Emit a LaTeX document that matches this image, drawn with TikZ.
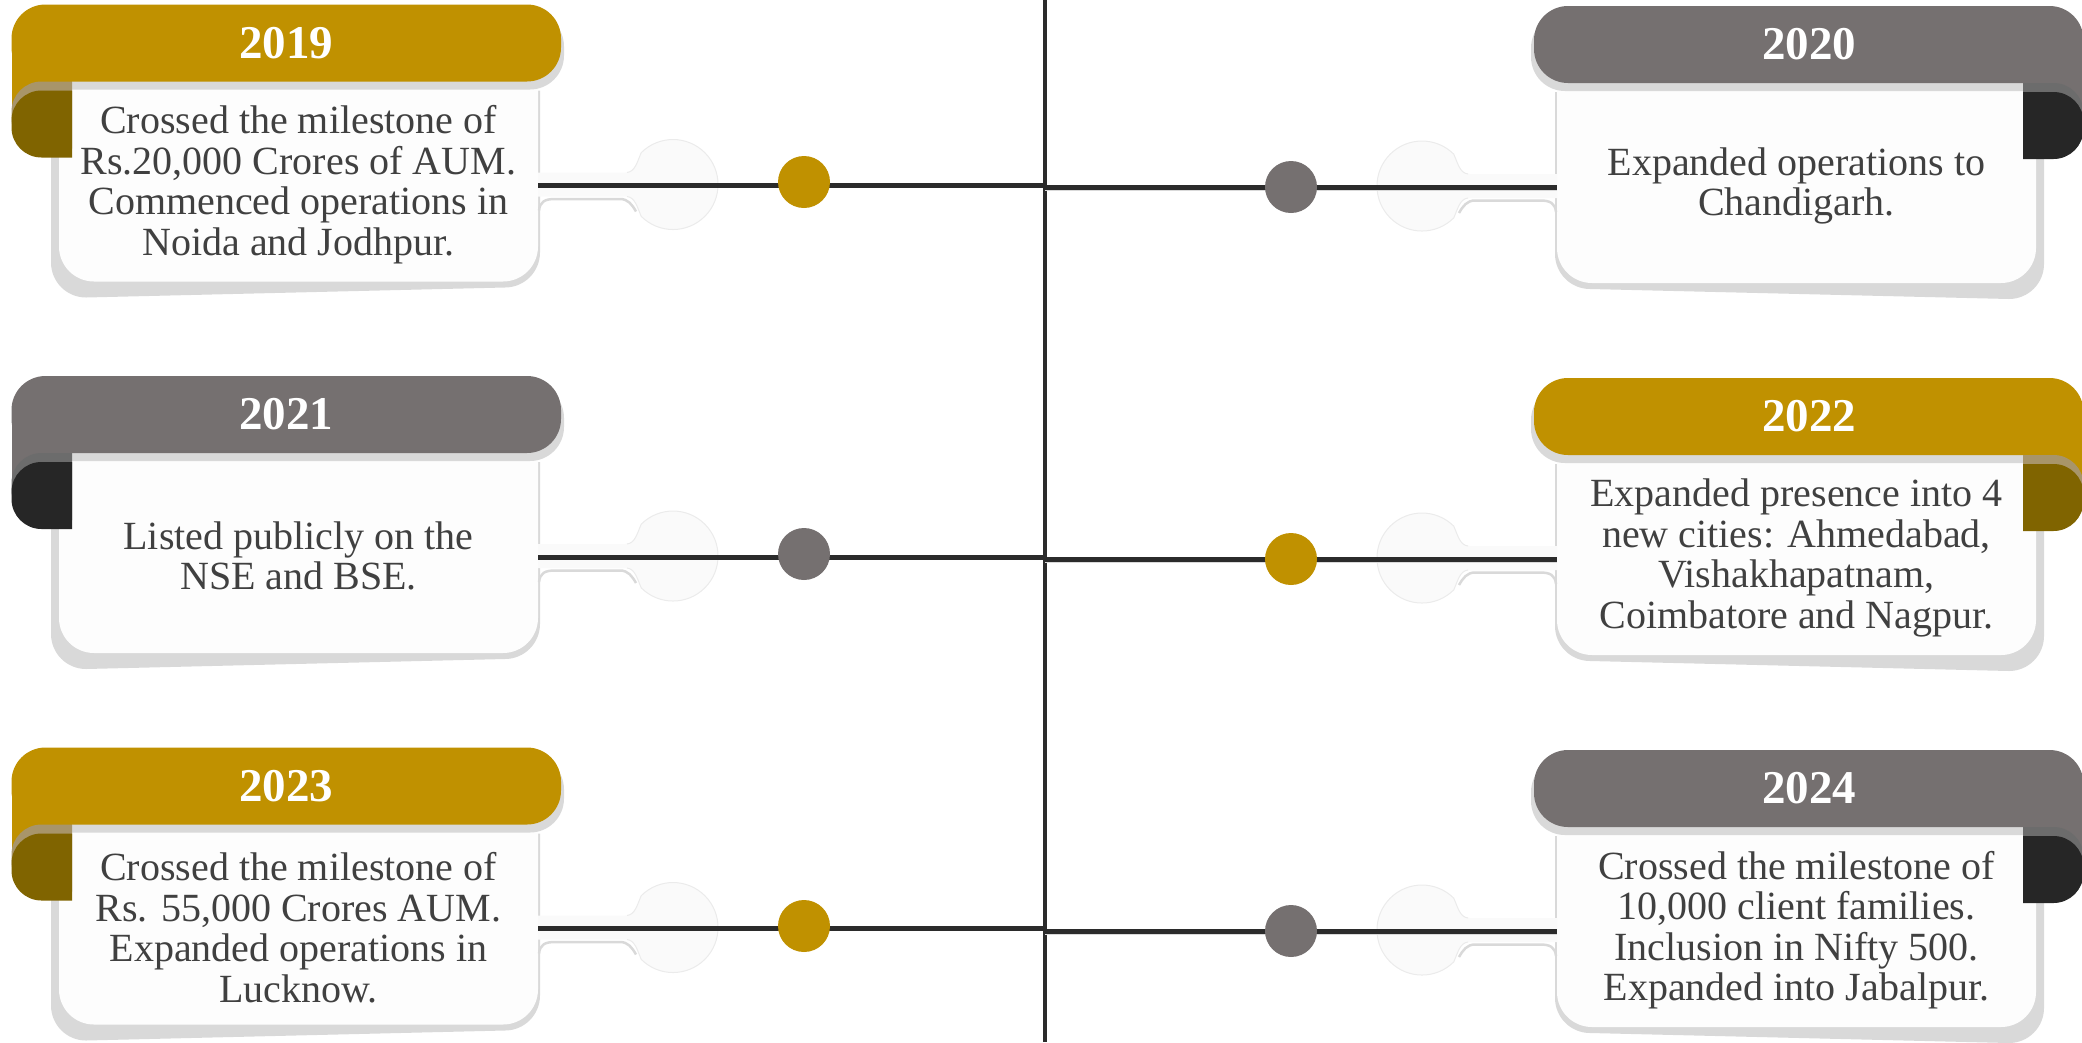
\documentclass[tikz,border=0pt]{standalone}
\usepackage{fontspec}
\setmainfont{Liberation Serif}
\usetikzlibrary{positioning}
\definecolor{gold}{HTML}{C09100}
\definecolor{goldband}{HTML}{A8956A}
\definecolor{goldcurl}{HTML}{806400}
\definecolor{grey}{HTML}{757070}
\definecolor{greyband}{HTML}{6C6C6C}
\definecolor{greycurl}{HTML}{262626}
\definecolor{cardgrey}{HTML}{D9D9D9}
\definecolor{cardwhite}{HTML}{FDFDFD}
\definecolor{ink}{HTML}{404040}
\definecolor{spinecol}{HTML}{2B2B2B}
\definecolor{tabfill}{HTML}{FAFAFA}
\definecolor{tabedge}{HTML}{EBEBEB}

\tikzset{
  cardshadow/.style={fill=cardgrey},
  cardbody/.style={fill=cardwhite},
  yeartext/.style={text=white, inner sep=0pt, font=\fontsize{47}{50}\selectfont\bfseries},
  cardtext/.style={text=ink, align=center, inner sep=0pt, font=\fontsize{40}{40.5}\selectfont},
  stem/.style={draw=spinecol, line width=5pt},
  stemshadow/.style={draw=cardgrey, line width=1.5pt},
  spineline/.style={draw=spinecol, line width=4.5pt},
  dot/.style={circle, minimum size=52pt, inner sep=0pt},
  tabshape/.style={fill=tabfill},
  tabline/.style={draw=tabedge, line width=1pt},
  tabshadow/.style={draw=cardgrey, line width=2.5pt}
}

% #1 name, #2 x of body edge, #3 side (1 or -1), #4 top, #5 colour, #6 year, #7 text
\newcommand{\milecard}[7]{%
  \begin{scope}[shift={(#2,#4)}, xscale=#3]
    \fill[cardshadow] (-8,86) -- (-8,258) arc[start angle=180,end angle=90,radius=35]
      -- (446,283) arc[start angle=90,end angle=0,radius=35] -- (481,86) -- cycle;
    \fill[cardbody] (0,70) -- (0,242) arc[start angle=180,end angle=90,radius=35]
      -- (444,277) arc[start angle=90,end angle=0,radius=35] -- (479,70) -- cycle;
    \fill[tabshape] (479,168) -- (566,168) .. controls (576,168) and (578,158) .. (582.2,148.2)
      arc[start angle=225,end angle=495,radius=45]
      .. controls (578,202) and (576,192) .. (566,192) -- (479,192) -- cycle;
    \draw[tabline] (568,168) .. controls (576,167) and (578,158) .. (582.2,148.2)
      arc[start angle=225,end angle=495,radius=45]
      .. controls (578,202) and (576,193) .. (568,192);
    \draw[tabshadow] (480,206) .. controls (481,197) and (486,194.5) .. (496,194.5)
      -- (561,194.5) .. controls (569,194.5) and (573,200) .. (577,207);
    \fill[cardshadow, rounded corners=34] (-44.5,8) rectangle (505,85);
    \fill[#5, rounded corners=34] (-47.5,0) rectangle (502,77);
    \fill[#5] (-47.5,38) rectangle (13,115);
    \fill[#5band] (13,77) -- (-17.5,77) arc[start angle=270,end angle=180,radius=30]
      -- (-47.5,114) arc[start angle=180,end angle=90,radius=30] -- (13,144) -- cycle;
    \fill[#5curl] (13,86) -- (-17.5,86) arc[start angle=270,end angle=180,radius=30]
      -- (-47.5,123) arc[start angle=180,end angle=90,radius=30] -- (13,153) -- cycle;
    \node[yeartext] (#1year) at (227,38.5) {#6};
    \node[cardtext] (#1text) at (239.5,180) {#7};
    \coordinate (#1tab) at (479,181);
  \end{scope}}

\begin{document}
\begin{tikzpicture}[x=1pt, y=-1pt]
  \useasboundingbox (0,0) rectangle (2082,1042);

  \milecard{c19}{59}{1}{4.5}{gold}{2019}{Crossed the milestone of\\Rs.20,000 Crores of AUM.\\Commenced operations in\\Noida and Jodhpur.}
  \milecard{c20}{2036}{-1}{6}{grey}{2020}{Expanded operations to\\Chandigarh.}
  \milecard{c21}{59}{1}{376}{grey}{2021}{Listed publicly on the\\NSE and BSE.}
  \milecard{c22}{2036}{-1}{378}{gold}{2022}{Expanded presence into 4\\new cities: Ahmedabad,\\Vishakhapatnam,\\Coimbatore and Nagpur.}
  \milecard{c23}{59}{1}{747.5}{gold}{2023}{Crossed the milestone of\\Rs. 55,000 Crores AUM.\\Expanded operations in\\Lucknow.}
  \milecard{c24}{2036}{-1}{750}{grey}{2024}{Crossed the milestone of\\10,000 client families.\\Inclusion in Nifty 500.\\Expanded into Jabalpur.}

  \coordinate (top) at (1045,0);
  \coordinate (bottom) at (1045,1042);
  \coordinate (s19) at (1045,185.5);
  \coordinate (s20) at (1045,187);
  \coordinate (s21) at (1045,557);
  \coordinate (s22) at (1045,559);
  \coordinate (s23) at (1045,928.5);
  \coordinate (s24) at (1045,931);

  \draw[spineline] (top) -- (bottom);

  \draw[stemshadow] ([yshift=-3.5pt]s20) -- ([yshift=-3.5pt]c20tab);
  \draw[stemshadow] ([yshift=-3.5pt]s22) -- ([yshift=-3.5pt]c22tab);
  \draw[stemshadow] ([yshift=-3.5pt]s24) -- ([yshift=-3.5pt]c24tab);

  \draw[stem] (c19tab) -- (s19);
  \draw[stem] (s20) -- (c20tab);
  \draw[stem] (c21tab) -- (s21);
  \draw[stem] (s22) -- (c22tab);
  \draw[stem] (c23tab) -- (s23);
  \draw[stem] (s24) -- (c24tab);

  \node[dot, fill=gold] (d19) at (804,182) {};
  \node[dot, fill=grey] (d20) at (1291,187) {};
  \node[dot, fill=grey] (d21) at (804,554) {};
  \node[dot, fill=gold] (d22) at (1291,559) {};
  \node[dot, fill=gold] (d23) at (804,926) {};
  \node[dot, fill=grey] (d24) at (1291,931) {};
\end{tikzpicture}
\end{document}
